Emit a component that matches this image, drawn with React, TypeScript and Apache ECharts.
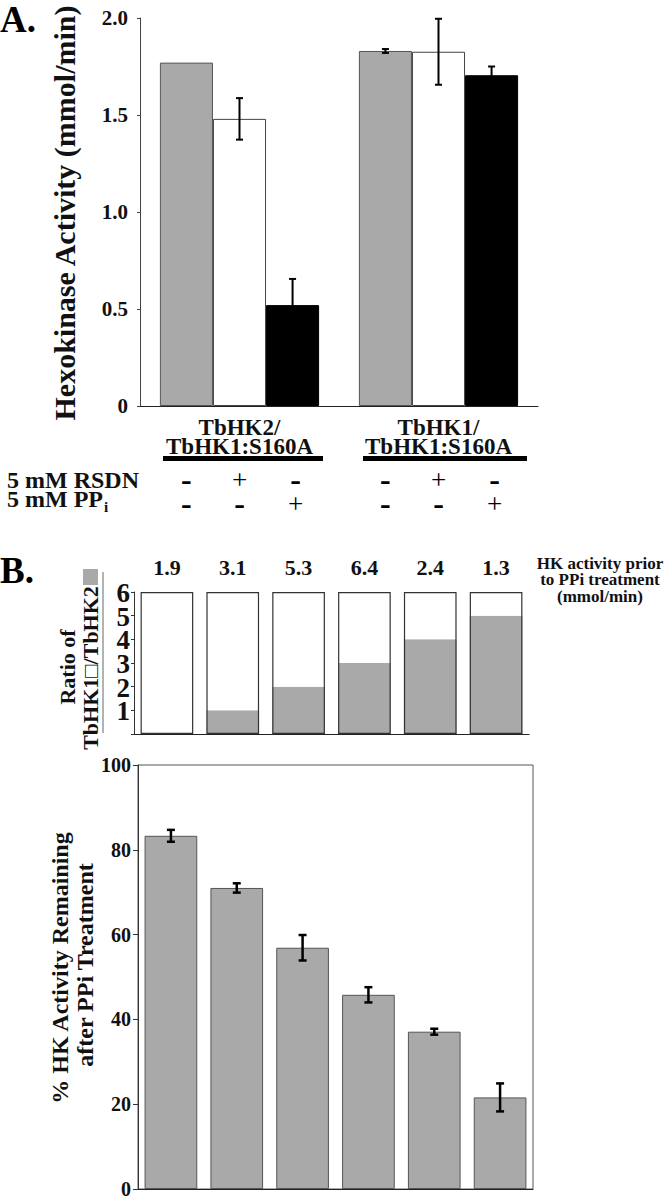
import React, { useEffect, useRef } from 'react';
import * as echarts from 'echarts';

const FONT = "'Liberation Serif', 'Times New Roman', Times, serif";

// Panel A data
const groupLabels = ['TbHK2/\nTbHK1:S160A', 'TbHK1/\nTbHK1:S160A'];
const grayA = [1.77, 1.83];
const grayAErr = [0, 0.01];
const whiteA = [1.48, 1.826];
const whiteAErr = [0.107, 0.17];
const blackA = [0.52, 1.705];
const blackAErr = [0.135, 0.045];
const rsdnSigns = ['-', '+', '-', '-', '+', '-'];
const ppiSigns = ['-', '-', '+', '-', '-', '+'];
const yTicksA = { min: 0, max: 2, interval: 0.5 };

// Panel B data
const mixIds = ['m1', 'm2', 'm3', 'm4', 'm5', 'm6'];
const priorActivity = ['1.9', '3.1', '5.3', '6.4', '2.4', '1.3'];
const tbhk2Parts = [0, 1, 2, 3, 4, 5];
const tbhk1Parts = [6, 5, 4, 3, 2, 1];
const ratioTickLabels = [1, 2, 3, 4, 5, 6];
const remaining = [83.3, 71.0, 56.9, 45.8, 37.1, 21.6];
const remainingErr = [1.4, 1.1, 3.0, 1.8, 0.7, 3.3];

const GRAY = '#a9a9a9';
const bold = (size: number) => ({ fontFamily: FONT, fontWeight: 'bold' as const, fontSize: size, color: '#111' });

function buildOption(): any {
  const totals = tbhk1Parts.map((v, i) => v + tbhk2Parts[i]);
  const errA: number[][] = [];
  [
    [grayA, grayAErr],
    [whiteA, whiteAErr],
    [blackA, blackAErr],
  ].forEach(([vals, errs], s) => {
    vals.forEach((v, i) => {
      if (errs[i] > 0) errA.push([i, v, errs[i], s]);
    });
  });
  const signData = rsdnSigns.map((_, i) => [Math.floor(i / 3), i % 3]);

  const errRender = (params: any, api: any) => {
    const cat = api.value(0);
    const v = api.value(1);
    const e = api.value(2);
    const s = api.value(3);
    const catW = api.size([1, 0])[0];
    const barW = (catW * 0.8) / 3;
    const x = api.coord([cat, v])[0] + (s - 1) * barW;
    const yT = api.coord([cat, v + e])[1];
    const yB = api.coord([cat, v - e])[1];
    const st = { stroke: '#000', lineWidth: 2 };
    return {
      type: 'group',
      children: [
        { type: 'line', shape: { x1: x, y1: yT, x2: x, y2: yB }, style: st },
        { type: 'line', shape: { x1: x - 3.5, y1: yT, x2: x + 3.5, y2: yT }, style: st },
        { type: 'line', shape: { x1: x - 3.5, y1: yB, x2: x + 3.5, y2: yB }, style: st },
      ],
    };
  };

  const errRenderB = (params: any, api: any) => {
    const cat = api.value(0);
    const v = api.value(1);
    const e = api.value(2);
    const x = api.coord([cat, v])[0];
    const yT = api.coord([cat, v + e])[1];
    const yB = api.coord([cat, v - e])[1];
    const st = { stroke: '#000', lineWidth: 2.5 };
    return {
      type: 'group',
      children: [
        { type: 'line', shape: { x1: x, y1: yT, x2: x, y2: yB }, style: st },
        { type: 'line', shape: { x1: x - 4, y1: yT, x2: x + 4, y2: yT }, style: st },
        { type: 'line', shape: { x1: x - 4, y1: yB, x2: x + 4, y2: yB }, style: st },
      ],
    };
  };

  const signRender = (params: any, api: any) => {
    const cat = api.value(0);
    const slot = api.value(1);
    const idx = params.dataIndex;
    const catW = api.size([1, 0])[0];
    const barW = (catW * 0.8) / 3;
    const x = api.coord([cat, 0])[0] + (slot - 1) * barW + (slot === 2 ? 3 : 0);
    const mk = (t: string, y: number) => ({
      type: 'text',
      x,
      y: t === '-' ? y - 1 : y,
      style: {
        text: t,
        align: 'center',
        verticalAlign: 'middle',
        fontFamily: FONT,
        fontWeight: t === '-' ? 'bold' : 'normal',
        fontSize: t === '-' ? 32 : 27,
        lineHeight: 20,
        fill: '#000',
      },
    });
    return {
      type: 'group',
      children: [mk(rsdnSigns[idx], 480), mk(ppiSigns[idx], 504)],
    };
  };

  // tick labels of the ratio axis (drawn at the axis's own scale)
  const ratioLabelRender = (params: any, api: any) => {
    const v = api.value(1);
    const p = api.coord([0, v]);
    const catW = api.size([1, 0])[0];
    return {
      type: 'text',
      x: p[0] - catW / 2 - 4,
      y: p[1] + 1,
      style: {
        text: String(v),
        align: 'right',
        verticalAlign: 'middle',
        fontFamily: FONT,
        fontWeight: 'bold',
        fontSize: 27,
        fill: '#111',
      },
    };
  };

  const axisLine = (c: string) => ({ show: true, lineStyle: { color: c, width: 1 } });

  return {
    animation: false,
    backgroundColor: '#fff',
    grid: [
      { left: 140, right: 134, top: 18, bottom: 793 },
      { left: 134, right: 143, top: 592, bottom: 465 },
      { left: 138, right: 139, top: 765, bottom: 4, show: true, borderColor: '#555', borderWidth: 1, backgroundColor: 'transparent' },
    ],
    xAxis: [
      {
        gridIndex: 0,
        type: 'category',
        data: groupLabels,
        axisLine: axisLine('#222'),
        axisTick: { show: false },
        axisLabel: { ...bold(23), lineHeight: 19, margin: 12, interval: 0 },
      },
      {
        gridIndex: 1,
        type: 'category',
        data: mixIds,
        axisLine: axisLine('#222'),
        axisTick: { show: false },
        axisLabel: { show: false },
      },
      {
        gridIndex: 1,
        type: 'category',
        position: 'top',
        data: priorActivity,
        axisLine: { show: false },
        axisTick: { show: false },
        axisLabel: { ...bold(22), margin: 14, interval: 0 },
      },
      {
        gridIndex: 2,
        type: 'category',
        data: mixIds,
        axisLine: axisLine('#222'),
        axisTick: { show: false },
        axisLabel: { show: false },
      },
    ],
    yAxis: [
      {
        gridIndex: 0,
        type: 'value',
        ...yTicksA,
        axisLine: axisLine('#444'),
        axisTick: { show: true, length: 3, lineStyle: { color: '#444' } },
        splitLine: { show: false },
        axisLabel: { ...bold(21), margin: 12, showMaxLabel: true, formatter: (v: number) => (v === 0 ? '0' : v.toFixed(1)) },
      },
      {
        gridIndex: 1,
        type: 'value',
        min: 0,
        max: 6,
        interval: 1,
        axisLine: axisLine('#333'),
        axisTick: { show: true, length: 3, lineStyle: { color: '#333' } },
        splitLine: { show: false },
        axisLabel: { show: false },
      },
      {
        gridIndex: 2,
        type: 'value',
        min: 0,
        max: 100,
        interval: 20,
        axisLine: axisLine('#333'),
        axisTick: { show: true, length: 5, lineStyle: { color: '#333' } },
        splitLine: { show: false },
        axisLabel: { ...bold(20), margin: 7, showMaxLabel: true },
      },
    ],
    series: [
      {
        type: 'bar',
        xAxisIndex: 0,
        yAxisIndex: 0,
        data: grayA,
        barGap: '0%',
        barCategoryGap: '20%',
        itemStyle: { color: GRAY, borderColor: '#555', borderWidth: 1 },
      },
      {
        type: 'bar',
        xAxisIndex: 0,
        yAxisIndex: 0,
        data: whiteA,
        barGap: '0%',
        barCategoryGap: '20%',
        itemStyle: { color: '#fff', borderColor: '#444', borderWidth: 1 },
      },
      {
        type: 'bar',
        xAxisIndex: 0,
        yAxisIndex: 0,
        data: blackA,
        barGap: '0%',
        barCategoryGap: '20%',
        itemStyle: { color: '#000', borderColor: '#000', borderWidth: 1 },
      },
      {
        type: 'custom',
        xAxisIndex: 0,
        yAxisIndex: 0,
        data: errA,
        encode: { x: 0, y: 1 },
        renderItem: errRender,
        clip: false,
        z: 5,
      },
      {
        type: 'custom',
        xAxisIndex: 0,
        yAxisIndex: 0,
        data: signData,
        encode: { x: 0, y: 1 },
        renderItem: signRender,
        clip: false,
        z: 5,
      },
      {
        type: 'bar',
        xAxisIndex: 1,
        yAxisIndex: 1,
        stack: 'ratio',
        data: tbhk2Parts,
        barCategoryGap: '20%',
        itemStyle: { color: GRAY },
      },
      {
        type: 'bar',
        xAxisIndex: 1,
        yAxisIndex: 1,
        stack: 'ratio',
        data: tbhk1Parts,
        barCategoryGap: '20%',
        itemStyle: { color: '#fff' },
      },
      {
        type: 'bar',
        xAxisIndex: 1,
        yAxisIndex: 1,
        data: totals,
        barGap: '-100%',
        barCategoryGap: '20%',
        itemStyle: { color: 'rgba(0,0,0,0)', borderColor: '#333', borderWidth: 1.2 },
        z: 4,
      },
      {
        type: 'custom',
        xAxisIndex: 1,
        yAxisIndex: 1,
        data: ratioTickLabels.map((v) => [0, v]),
        encode: { x: 0, y: 1 },
        renderItem: ratioLabelRender,
        clip: false,
        z: 5,
      },
      {
        type: 'bar',
        xAxisIndex: 3,
        yAxisIndex: 2,
        data: remaining,
        barCategoryGap: '20%',
        itemStyle: { color: GRAY, borderColor: '#555', borderWidth: 1 },
      },
      {
        type: 'custom',
        xAxisIndex: 3,
        yAxisIndex: 2,
        data: remaining.map((v, i) => [i, v, remainingErr[i]]),
        encode: { x: 0, y: 1 },
        renderItem: errRenderB,
        clip: false,
        z: 5,
      },
    ],
    graphic: [
      { type: 'text', x: 0, y: 19, style: { text: 'A.', fontFamily: FONT, fontWeight: 'bold', fontSize: 37, fill: '#000', align: 'left', verticalAlign: 'middle' } },
      {
        type: 'text', x: 64, y: 213, rotation: Math.PI / 2,
        style: { text: 'Hexokinase Activity (mmol/min)', fontFamily: FONT, fontWeight: 'bold', fontSize: 30, fill: '#111', align: 'center', verticalAlign: 'middle' },
      },
      { type: 'rect', shape: { x: 163, y: 456, width: 160, height: 5 }, style: { fill: '#000' } },
      { type: 'rect', shape: { x: 363, y: 456, width: 164, height: 5 }, style: { fill: '#000' } },
      { type: 'text', x: 7, y: 480, style: { text: '5 mM RSDN', fontFamily: FONT, fontWeight: 'bold', fontSize: 24, fill: '#111', align: 'left', verticalAlign: 'middle' } },
      {
        type: 'text', x: 7, y: 499,
        style: {
          text: '5 mM PP{sub|i}', fontFamily: FONT, fontWeight: 'bold', fontSize: 24, fill: '#111', align: 'left', verticalAlign: 'middle',
          rich: { sub: { fontFamily: FONT, fontWeight: 'bold', fontSize: 15, fill: '#111', padding: [16, 0, 0, 1] } },
        },
      },
      { type: 'text', x: 0, y: 570, style: { text: 'B.', fontFamily: FONT, fontWeight: 'bold', fontSize: 37, fill: '#000', align: 'left', verticalAlign: 'middle' } },
      {
        type: 'text', x: 67, y: 667, rotation: Math.PI / 2,
        style: { text: 'Ratio of', fontFamily: FONT, fontWeight: 'bold', fontSize: 22, fill: '#111', align: 'center', verticalAlign: 'middle' },
      },
      {
        type: 'text', x: 90, y: 668, rotation: Math.PI / 2,
        style: { text: 'TbHK1\u25A1/TbHK2', fontFamily: FONT, fontWeight: 'bold', fontSize: 22, fill: '#111', align: 'center', verticalAlign: 'middle' },
      },
      { type: 'rect', shape: { x: 83, y: 569, width: 15, height: 16 }, style: { fill: GRAY } },
      { type: 'line', shape: { x1: 103, y1: 572, x2: 103, y2: 733 }, style: { stroke: '#666', lineWidth: 1 } },
      { type: 'text', x: 600, y: 563, style: { text: 'HK activity prior', fontFamily: FONT, fontWeight: 'bold', fontSize: 17, fill: '#111', align: 'center', verticalAlign: 'middle' } },
      { type: 'text', x: 600, y: 579, style: { text: 'to PPi treatment', fontFamily: FONT, fontWeight: 'bold', fontSize: 17, fill: '#111', align: 'center', verticalAlign: 'middle' } },
      { type: 'text', x: 600, y: 596, style: { text: '(mmol/min)', fontFamily: FONT, fontWeight: 'bold', fontSize: 17, fill: '#111', align: 'center', verticalAlign: 'middle' } },
      {
        type: 'text', x: 60, y: 968, rotation: Math.PI / 2,
        style: { text: '% HK Activity Remaining', fontFamily: FONT, fontWeight: 'bold', fontSize: 24, fill: '#111', align: 'center', verticalAlign: 'middle' },
      },
      {
        type: 'text', x: 85, y: 965, rotation: Math.PI / 2,
        style: { text: 'after PPi Treatment', fontFamily: FONT, fontWeight: 'bold', fontSize: 24, fill: '#111', align: 'center', verticalAlign: 'middle' },
      },
    ],
  };
}

export default function App() {
  const ref = useRef<HTMLDivElement>(null);
  useEffect(() => {
    if (!ref.current) return;
    const chart = echarts.init(ref.current, null, { renderer: 'svg' });
    chart.setOption(buildOption());
    return () => chart.dispose();
  }, []);
  return (
    <div
      ref={ref}
      style={{ position: 'absolute', left: 0, top: 0, width: 672, height: 1199, background: '#fff' }}
    />
  );
}
